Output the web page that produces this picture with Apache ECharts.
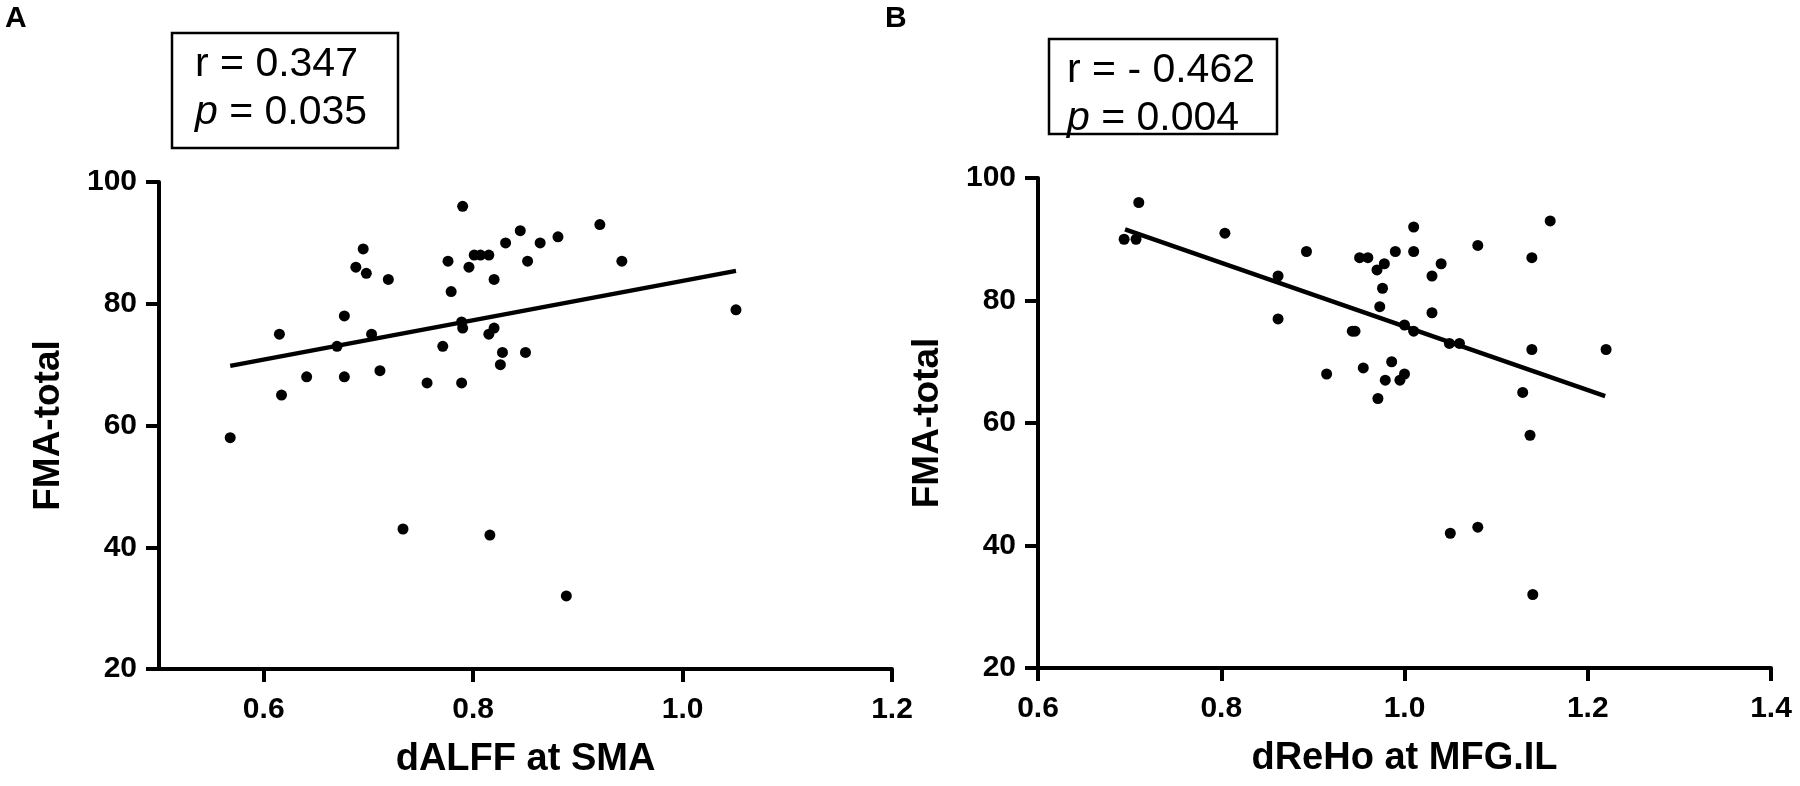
<!DOCTYPE html>
<html>
<head>
<meta charset="utf-8">
<script src="https://cdn.jsdelivr.net/npm/echarts@6/dist/echarts.min.js"></script>
<style>
  html, body { margin: 0; padding: 0; background: #fff; }
  #chart { width: 1800px; height: 786px; }
</style>
</head>
<body>
<div id="chart"></div>
<script>
// panel A: dALFF at SMA vs FMA-total
const aX = [0.568, 0.615, 0.617, 0.641, 0.670, 0.677, 0.677, 0.688, 0.695, 0.698,
            0.703, 0.711, 0.719, 0.733, 0.756, 0.771, 0.776, 0.779, 0.790, 0.789,
            0.790, 0.789, 0.796, 0.801, 0.807, 0.815, 0.815, 0.816, 0.820, 0.820,
            0.826, 0.828, 0.831, 0.845, 0.850, 0.852, 0.864, 0.881, 0.889, 0.921,
            0.942, 1.051];
const aY = [58, 75, 65, 68, 73, 78, 68, 86, 89, 85,
            75, 69, 84, 43, 67, 73, 87, 82, 96, 77,
            76, 67, 86, 88, 88, 88, 75, 42, 84, 76,
            70, 72, 90, 92, 72, 87, 90, 91, 32, 93,
            87, 79];
const fitA = [[0.568, 69.8], [1.051, 85.4]];

// panel B: dReHo at MFG.IL vs FMA-total
const bX = [0.694, 0.707, 0.710, 0.804, 0.862, 0.862, 0.893, 0.915, 0.943, 0.946,
            0.951, 0.960, 0.955, 0.970, 0.978, 0.976, 0.973, 0.971, 0.979, 0.986,
            0.990, 0.995, 1.000, 1.000, 1.010, 1.010, 1.010, 1.030, 1.030, 1.040,
            1.049, 1.060, 1.050, 1.080, 1.080, 1.129, 1.137, 1.139, 1.139, 1.140,
            1.159, 1.220];
const bY = [90, 90, 96, 91, 84, 77, 88, 68, 75, 75,
            87, 87, 69, 85, 86, 82, 79, 64, 67, 70,
            88, 67, 68, 76, 92, 88, 75, 84, 78, 86,
            73, 73, 42, 43, 89, 65, 58, 87, 72, 32,
            93, 72];
const fitB = [[0.695, 91.6], [1.219, 64.4]];

const xTicksA = [0.6, 0.8, 1.0, 1.2];   // panel A axis starts at 0.5, ticks from 0.6

const statsA = ['r = 0.347', '0.035'];
const statsB = ['r = - 0.462', '0.004'];

const FONT = '"Liberation Sans", Arial, sans-serif';
const zip = (xs, ys) => xs.map((x, i) => [x, ys[i]]);

const axisLine = () => ({ show: true, onZero: false, lineStyle: { color: '#000', width: 4 } });
const axisTick = () => ({ show: true, inside: false, length: 13, lineStyle: { color: '#000', width: 4 } });
const tickFont = { color: '#000', fontFamily: FONT, fontSize: 30, fontWeight: 'bold' };

function xAxis(idx, name, min, max, ticks) {
    const tick = axisTick();
    const label = Object.assign({ margin: 26, formatter: v => v.toFixed(1) }, tickFont);
    if (ticks) {
        tick.customValues = ticks;
        label.customValues = ticks;
    }
    return {
        type: 'value', gridIndex: idx, min: min, max: max, interval: 0.2,
        name: name, nameLocation: 'middle', nameGap: 72,
        nameTextStyle: { fontFamily: FONT, fontSize: 38, fontWeight: 'bold', color: '#000' },
        axisLine: axisLine(), axisTick: tick, axisLabel: label,
        splitLine: { show: false }
    };
}

function yAxis(idx) {
    return {
        type: 'value', gridIndex: idx, min: 20, max: 100, interval: 20,
        name: 'FMA-total', nameLocation: 'middle', nameRotate: 90, nameGap: 92,
        nameTextStyle: { fontFamily: FONT, fontSize: 37, fontWeight: 'bold', color: '#000' },
        axisLine: axisLine(), axisTick: axisTick(),
        axisLabel: Object.assign({ margin: 22 }, tickFont),
        splitLine: { show: false }
    };
}

function statBox(x, y, w, h, tx, lines) {
    return [
        { type: 'rect', shape: { x: x, y: y, width: w, height: h },
          style: { fill: 'none', stroke: '#000', lineWidth: 2.5 } },
        { type: 'text', x: tx, y: y + 32, style: {
            text: lines[0], fill: '#000', font: '41px ' + FONT, verticalAlign: 'middle' } },
        { type: 'text', x: tx, y: y + 80, style: {
            text: '{i|p} = ' + lines[1], fill: '#000', font: '41px ' + FONT, verticalAlign: 'middle',
            rich: { i: { fontStyle: 'italic', fontSize: 41, fontFamily: FONT, fill: '#000' } } } }
    ];
}

const chart = echarts.init(document.getElementById('chart'));
chart.setOption({
    backgroundColor: '#fff',
    animation: false,
    grid: [
        { left: 159, top: 182, width: 733, height: 487 },
        { left: 1038, top: 178, width: 733, height: 490 }
    ],
    xAxis: [
        xAxis(0, 'dALFF at SMA', 0.5, 1.2, xTicksA),
        xAxis(1, 'dReHo at MFG.IL', 0.6, 1.4, null)
    ],
    yAxis: [yAxis(0), yAxis(1)],
    graphic: [
        { type: 'text', x: 5, y: 19, style: { text: 'A', fill: '#000', font: 'bold 30px ' + FONT, verticalAlign: 'middle' } },
        { type: 'text', x: 885, y: 19, style: { text: 'B', fill: '#000', font: 'bold 30px ' + FONT, verticalAlign: 'middle' } }
    ].concat(statBox(172, 33, 226, 115, 195, statsA), statBox(1049, 39, 228, 95, 1067, statsB)),
    series: [
        { type: 'scatter', xAxisIndex: 0, yAxisIndex: 0, data: zip(aX, aY),
          symbolSize: 11, itemStyle: { color: '#000', opacity: 1 } },
        { type: 'line', xAxisIndex: 0, yAxisIndex: 0, data: fitA, symbol: 'none',
          lineStyle: { color: '#000', width: 4.5 } },
        { type: 'scatter', xAxisIndex: 1, yAxisIndex: 1, data: zip(bX, bY),
          symbolSize: 11, itemStyle: { color: '#000', opacity: 1 } },
        { type: 'line', xAxisIndex: 1, yAxisIndex: 1, data: fitB, symbol: 'none',
          lineStyle: { color: '#000', width: 4.5 } }
    ]
});
</script>
</body>
</html>
